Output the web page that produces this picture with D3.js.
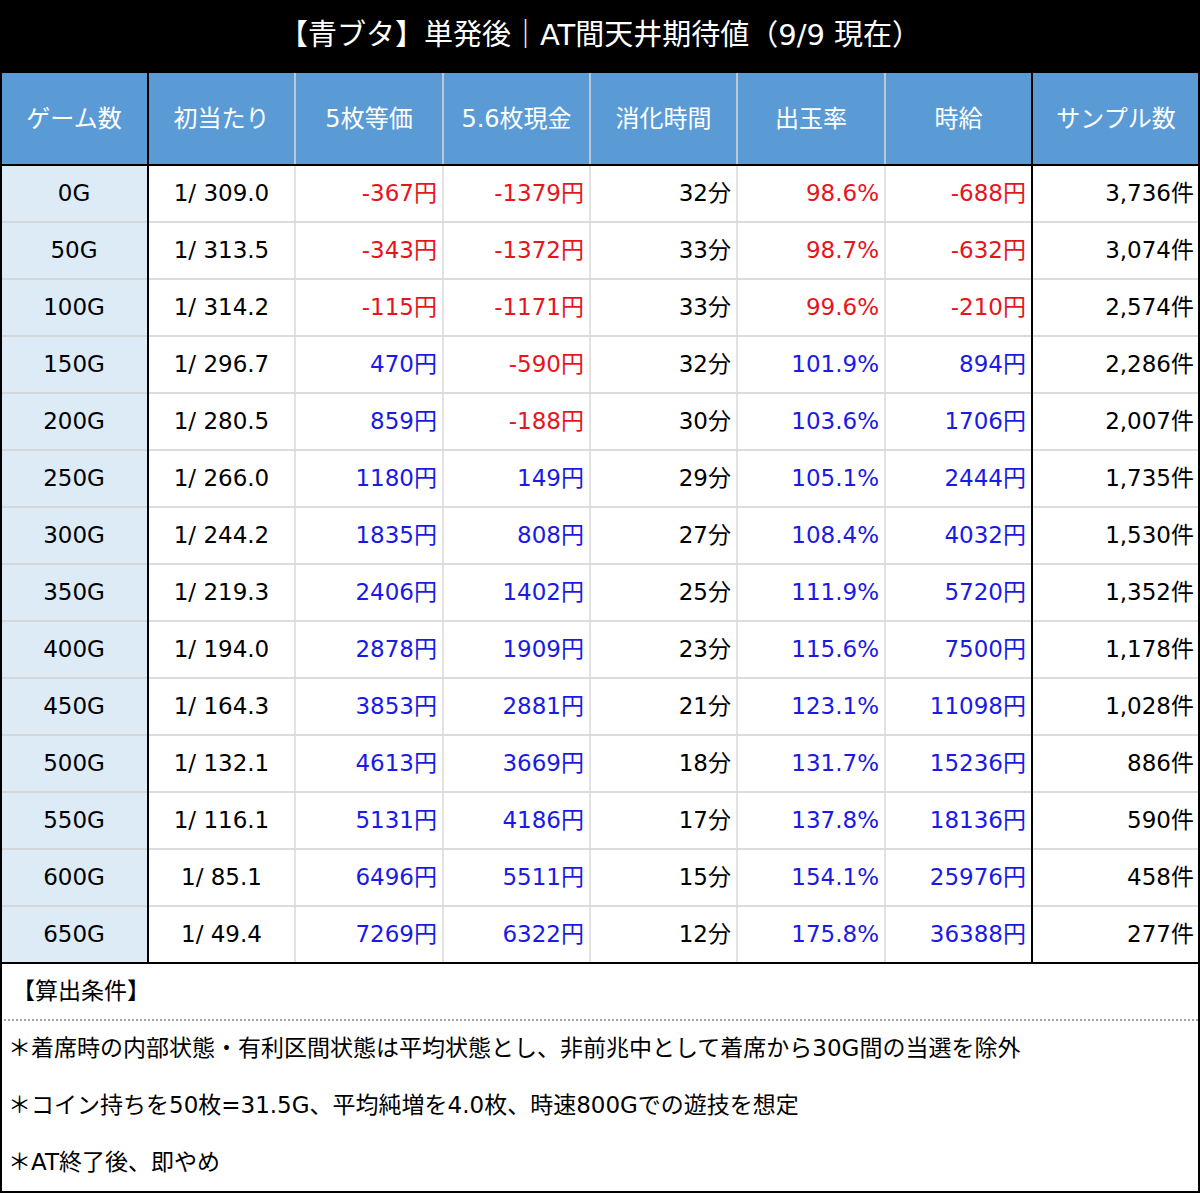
<!DOCTYPE html>
<html>
<head>
<meta charset="UTF-8">
<script src="https://d3js.org/d3.v7.min.js"></script>
<style>
body{margin:0;background:#fff;}
text{font-family:"DejaVu Sans","Noto Sans CJK JP",sans-serif;}
</style>
</head>
<body>
<svg id="chart" width="1200" height="1193"></svg>
<script>
const TITLE = "【青ブタ】単発後｜AT間天井期待値（9/9 現在）";
const HEADERS = ["ゲーム数","初当たり","5枚等価","5.6枚現金","消化時間","出玉率","時給","サンプル数"];
const GAMES = ["0G","50G","100G","150G","200G","250G","300G","350G","400G","450G","500G","550G","600G","650G"];
const FIRST_HIT = ["309.0","313.5","314.2","296.7","280.5","266.0","244.2","219.3","194.0","164.3","132.1","116.1","85.1","49.4"];
const EQ5 = [-367,-343,-115,470,859,1180,1835,2406,2878,3853,4613,5131,6496,7269];
const CASH56 = [-1379,-1372,-1171,-590,-188,149,808,1402,1909,2881,3669,4186,5511,6322];
const MINUTES = [32,33,33,32,30,29,27,25,23,21,18,17,15,12];
const PAYOUT = [98.6,98.7,99.6,101.9,103.6,105.1,108.4,111.9,115.6,123.1,131.7,137.8,154.1,175.8];
const HOURLY = [-688,-632,-210,894,1706,2444,4032,5720,7500,11098,15236,18136,25976,36388];
const SAMPLES = [3736,3074,2574,2286,2007,1735,1530,1352,1178,1028,886,590,458,277];
const NOTES = ["【算出条件】",
  "＊着席時の内部状態・有利区間状態は平均状態とし、非前兆中として着席から30G間の当選を除外",
  "＊コイン持ちを50枚=31.5G、平均純増を4.0枚、時速800Gでの遊技を想定",
  "＊AT終了後、即やめ"];

const svg = d3.select('#chart');
const W = 1200, titleH = 72, headH = 93, tableTop = 165, rowH = 57;
const colEdges = [0,148,295,443,590,737,885,1032,1200];
const RED = "#e8141c", BLUE = "#1a1ae6";

const colX = i => colEdges[i], colW = i => colEdges[i+1]-colEdges[i];
const y = d3.scaleBand().domain(d3.range(GAMES.length)).range([tableTop, tableTop + rowH*GAMES.length]);

// title
svg.append('rect').attr('width', W).attr('height', titleH).attr('fill', '#000');
svg.append('text').attr('x', W/2).attr('y', titleH/2+1).attr('text-anchor','middle')
  .attr('dominant-baseline','middle').attr('fill','#fff').attr('font-size',29).text(TITLE);

// header
svg.append('rect').attr('y', titleH).attr('width', W).attr('height', headH).attr('fill', '#5b9bd5');
svg.selectAll('.hd').data(HEADERS).enter().append('text')
  .attr('x', (d,i) => colX(i)+colW(i)/2).attr('y', titleH+headH/2+1)
  .attr('text-anchor','middle').attr('dominant-baseline','middle')
  .attr('fill','#fff').attr('font-size',24).text(d=>d);

// first column background
svg.append('rect').attr('x',0).attr('y',tableTop).attr('width',colW(0))
  .attr('height', rowH*GAMES.length).attr('fill','#ddebf7');

const fmtYen = v => v + "円";
const colorOf = v => v < 0 ? RED : BLUE;
const rows = GAMES.map((g,i) => [
  {t:g, a:'middle', c:'#000'},
  {t:"1/ " + FIRST_HIT[i], a:'middle', c:'#000'},
  {t:fmtYen(EQ5[i]), a:'end', c:colorOf(EQ5[i])},
  {t:fmtYen(CASH56[i]), a:'end', c:colorOf(CASH56[i])},
  {t:MINUTES[i] + "分", a:'end', c:'#000'},
  {t:PAYOUT[i].toFixed(1) + "%", a:'end', c:PAYOUT[i] < 100 ? RED : BLUE},
  {t:fmtYen(HOURLY[i]), a:'end', c:colorOf(HOURLY[i])},
  {t:d3.format(',')(SAMPLES[i]) + "件", a:'end', c:'#000'}
]);

// grid lines
const tableBottom = tableTop + rowH*GAMES.length;
svg.selectAll('.hl').data(d3.range(1, GAMES.length)).enter().append('line')
  .attr('x1',0).attr('x2',W).attr('y1',i=>y(i)).attr('y2',i=>y(i))
  .attr('stroke','#d0d0d0').attr('stroke-width',1.5);
svg.selectAll('.vl').data([2,3,4,5,6,7]).enter().append('line')
  .attr('x1',i=>colX(i)).attr('x2',i=>colX(i)).attr('y1',titleH).attr('y2',tableBottom)
  .attr('stroke', i => i===7 ? '#000' : '#d8d8d8').attr('stroke-width', i => i===7 ? 2 : 1.5);
svg.append('line').attr('x1',148).attr('x2',148).attr('y1',titleH).attr('y2',tableBottom)
  .attr('stroke','#000').attr('stroke-width',2);
svg.append('line').attr('x1',0).attr('x2',W).attr('y1',tableTop).attr('y2',tableTop)
  .attr('stroke','#000').attr('stroke-width',2);
svg.append('line').attr('x1',0).attr('x2',W).attr('y1',tableBottom).attr('y2',tableBottom)
  .attr('stroke','#000').attr('stroke-width',2);

// cells
const rg = svg.selectAll('.row').data(rows).enter().append('g')
  .attr('transform',(d,i)=>`translate(0,${y(i)+rowH/2+1})`);
rg.selectAll('text').data(d=>d).enter().append('text')
  .attr('x',(d,i)=> d.a==='middle' ? colX(i)+colW(i)/2 : colX(i+1)-6)
  .attr('text-anchor',d=>d.a).attr('dominant-baseline','middle')
  .attr('font-size',23).attr('fill',d=>d.c).text(d=>d.t);

// notes
const noteY = [992, 1049, 1106, 1163];
svg.selectAll('.note').data(NOTES).enter().append('text')
  .attr('x',(d,i)=> i===0 ? 12 : 8).attr('y',(d,i)=>noteY[i]).attr('dominant-baseline','middle')
  .attr('font-size',23).attr('fill','#000').text(d=>d);
svg.append('line').attr('x1',0).attr('x2',W).attr('y1',1020).attr('y2',1020)
  .attr('stroke','#888').attr('stroke-width',1.5).attr('stroke-dasharray','2,2');

// outer frame
svg.append('rect').attr('x',1).attr('y',titleH).attr('width',W-2).attr('height',1193-titleH-1)
  .attr('fill','none').attr('stroke','#000').attr('stroke-width',2);
</script>
</body>
</html>
